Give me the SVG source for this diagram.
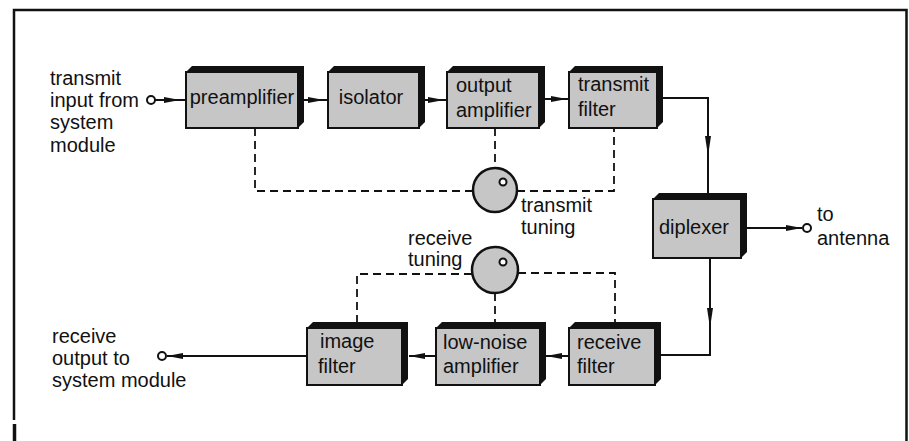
<svg xmlns="http://www.w3.org/2000/svg" width="909" height="441" viewBox="0 0 909 441">
<defs>
<style>
text{font-family:"Liberation Sans","DejaVu Sans",sans-serif;font-size:20px;fill:#111}
.shade{fill:#111}
.face{fill:#c6c6c6;stroke:#111;stroke-width:2}
.wire{fill:none;stroke:#111;stroke-width:2}
.dash{fill:none;stroke:#111;stroke-width:1.8;stroke-dasharray:8 5}
.term{fill:#fff;stroke:#111;stroke-width:2}
.knob{fill:#c6c6c6;stroke:#111;stroke-width:2.5}
.frame{fill:none;stroke:#111;stroke-width:2.5}
</style>
<marker id="ah" viewBox="0 0 16 6" refX="16" refY="3" markerWidth="16" markerHeight="6" markerUnits="userSpaceOnUse" orient="auto">
<path d="M0,0 L16,3 L0,6 Z" fill="#111"/>
</marker>
<marker id="ahl" viewBox="0 0 20 6" refX="20" refY="3" markerWidth="20" markerHeight="6" markerUnits="userSpaceOnUse" orient="auto">
<path d="M0,0 L20,3 L0,6 Z" fill="#111"/>
</marker>
</defs>
<rect width="909" height="441" fill="#fff"/>
<g id="frame">
<path class="frame" d="M14,420 V10 H906.5 V441"/>
<path d="M14.5,424 V441" stroke="#111" stroke-width="3.5"/>
</g>
<g id="connectors">
<circle class="term" cx="151" cy="100" r="4"/>
<path class="wire" d="M155,100 H180" marker-end="url(#ah)"/>
<path class="wire" d="M178,100 H186"/>
<path class="wire" d="M304,100 H324" marker-end="url(#ah)"/>
<path class="wire" d="M322,100 H328"/>
<path class="wire" d="M425,100 H444" marker-end="url(#ah)"/>
<path class="wire" d="M442,100 H447"/>
<path class="wire" d="M545,99 H567" marker-end="url(#ah)"/>
<path class="wire" d="M565,99 H569"/>
<path class="wire" d="M657,98 H708 V156" marker-end="url(#ahl)"/>
<path class="wire" d="M708,154 V193"/>
<path class="wire" d="M747,228 H802" marker-end="url(#ah)"/>
<circle class="term" cx="807" cy="228" r="4"/>
<path class="wire" d="M710,258 V328" marker-end="url(#ahl)"/>
<path class="wire" d="M710,326 V355 H656"/>
<path class="wire" d="M569,356 H546" marker-end="url(#ah)"/>
<path class="wire" d="M436,356 H409" marker-end="url(#ah)"/>
<path class="wire" d="M307,356 H167" marker-end="url(#ah)"/>
<circle class="term" cx="162" cy="356" r="4"/>
<path class="dash" d="M255,128 V191 H473"/>
<path class="dash" d="M495,128 V168"/>
<path class="dash" d="M517,191 H614 V128"/>
<path class="dash" d="M472,274 H357 V322"/>
<path class="dash" d="M495,293 V322"/>
<path class="dash" d="M518,273 H615 V322"/>
</g>
<g id="preamplifier">
<polygon class="shade" points="186,72 192,66 304,66 304,122 298,128 186,128"/>
<rect class="face" x="186" y="72" width="112" height="56"/>
<text x="242" y="104" text-anchor="middle">preamplifier</text>
</g>
<g id="isolator">
<polygon class="shade" points="328,72 334,66 425,66 425,122 419,128 328,128"/>
<rect class="face" x="328" y="72" width="91" height="56"/>
<text x="371" y="104" text-anchor="middle">isolator</text>
</g>
<g id="output-amplifier">
<polygon class="shade" points="447,72 453,66 545,66 545,122 539,128 447,128"/>
<rect class="face" x="447" y="72" width="92" height="56"/>
<text x="456" y="92">output</text>
<text x="456" y="117">amplifier</text>
</g>
<g id="transmit-filter">
<polygon class="shade" points="569,72 575,66 663,66 663,122 657,128 569,128"/>
<rect class="face" x="569" y="72" width="88" height="56"/>
<text x="578" y="91">transmit</text>
<text x="578" y="116">filter</text>
</g>
<g id="diplexer">
<polygon class="shade" points="653,199 659,193 747,193 747,252 741,258 653,258"/>
<rect class="face" x="653" y="199" width="88" height="59"/>
<text x="694" y="234" text-anchor="middle">diplexer</text>
</g>
<g id="receive-filter">
<polygon class="shade" points="569,328 575,322 661,322 661,379 655,385 569,385"/>
<rect class="face" x="569" y="328" width="86" height="57"/>
<text x="577" y="349">receive</text>
<text x="577" y="373">filter</text>
</g>
<g id="low-noise-amplifier">
<polygon class="shade" points="436,328 442,322 546,322 546,379 540,385 436,385"/>
<rect class="face" x="436" y="328" width="104" height="57"/>
<text x="443" y="349">low-noise</text>
<text x="443" y="373">amplifier</text>
</g>
<g id="image-filter">
<polygon class="shade" points="307,328 313,322 408,322 408,379 402,385 307,385"/>
<rect class="face" x="307" y="328" width="95" height="57"/>
<text x="320" y="348">image</text>
<text x="318" y="373">filter</text>
</g>
<g id="transmit-tuning">
<circle class="knob" cx="495" cy="190" r="22"/>
<circle class="term" cx="503" cy="182" r="3.5" stroke-width="1.6"/>
<text x="521" y="212">transmit</text>
<text x="521" y="234">tuning</text>
</g>
<g id="receive-tuning">
<circle class="knob" cx="495" cy="270" r="23"/>
<circle class="term" cx="503" cy="262" r="3.5" stroke-width="1.6"/>
<text x="408" y="245">receive</text>
<text x="408" y="266">tuning</text>
</g>
<g id="labels">
<text x="50" y="85">transmit</text>
<text x="50" y="107">input from</text>
<text x="50" y="129">system</text>
<text x="50" y="152">module</text>
<text x="52" y="343">receive</text>
<text x="52" y="365">output to</text>
<text x="52" y="387">system module</text>
<text x="817" y="221">to</text>
<text x="817" y="245">antenna</text>
</g>
</svg>
